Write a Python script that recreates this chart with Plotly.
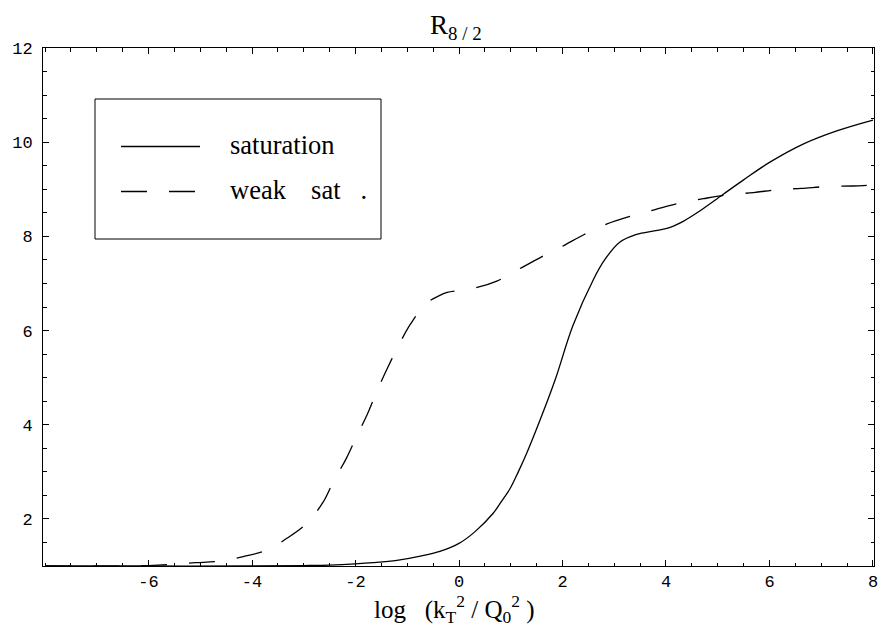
import plotly.graph_objects as go

# ---- data ----
sat_x = [-8.0, -6.0, -4.0, -3.0, -2.5, -2.0, -1.66, -1.2, -0.7, -0.37, 0.0, 0.31, 0.66, 0.82, 0.99,
         1.15, 1.31, 1.57, 1.86, 2.2, 2.6, 2.82, 3.1, 3.43, 3.8, 4.08, 4.35, 4.6, 5.1, 5.5, 6.0,
         6.65, 7.3, 8.0]
sat_y = [1.0, 1.0, 1.0, 1.01, 1.02, 1.045, 1.07, 1.12, 1.22, 1.31, 1.48, 1.73, 2.12, 2.37, 2.65,
         3.01, 3.40, 4.11, 4.96, 6.10, 7.09, 7.51, 7.87, 8.04, 8.12, 8.19, 8.33, 8.50, 8.89, 9.20, 9.57,
         9.96, 10.24, 10.47]

weak_x = [-8.0, -6.5, -6.0, -5.6, -5.1, -4.66, -4.17, -3.71, -3.31, -2.94, -2.63, -2.42, -2.18, -1.98,
          -1.77, -1.58, -1.38, -1.17, -0.93, -0.64, -0.4, -0.23, 0.26, 0.73, 1.15, 1.57, 2.0, 2.42,
          2.85, 3.32, 3.79, 4.24, 4.72, 5.17, 5.69, 6.14, 6.62, 7.14, 7.61, 8.0]
weak_y = [1.0, 1.0, 1.01, 1.03, 1.07, 1.10, 1.20, 1.34, 1.60, 1.91, 2.35, 2.81, 3.28, 3.75,
          4.23, 4.73, 5.21, 5.68, 6.15, 6.57, 6.73, 6.81, 6.89, 7.05, 7.30, 7.55, 7.79, 8.04,
          8.26, 8.43, 8.57, 8.70, 8.80, 8.88, 8.93, 8.99, 9.02, 9.06, 9.07, 9.09]

x_ticks = [-6, -4, -2, 0, 2, 4, 6, 8]
y_ticks = [2, 4, 6, 8, 10, 12]
series_names = ["saturation", "weak  sat  ."]

# ---- layout geometry (pixels) ----
W, H = 880, 630
L, R, T, B = 43, 6, 48, 64
PW, PH = W - L - R, H - T - B


def px(x):
    return (x - L) / PW


def py(y):
    return (H - B - y) / PH


SERIF = "Liberation Serif, Times New Roman, serif"
MONO = "Liberation Mono, Courier New, monospace"
DASH = "26px,22px"
NB = "\u00a0"

fig = go.Figure()
fig.add_trace(go.Scatter(x=sat_x, y=sat_y, mode="lines", name=series_names[0],
                         line=dict(color="black", width=1.3, shape="spline", smoothing=1.0)))
fig.add_trace(go.Scatter(x=weak_x, y=weak_y, mode="lines", name=series_names[1],
                         line=dict(color="black", width=1.3, dash=DASH, shape="spline", smoothing=1.0)))

axis_common = dict(
    showgrid=False, zeroline=False, showline=True, linecolor="black", linewidth=1,
    mirror="ticks", ticks="inside", ticklen=6, tickcolor="black", tickwidth=1,
    tickfont=dict(family=MONO, size=17, color="black"), automargin=False,
)

fig.update_xaxes(range=[-8.04, 8.02], tickvals=x_ticks, ticktext=[str(v) for v in x_ticks],
                 minor=dict(ticks="inside", ticklen=3.5, dtick=0.5, tick0=0, tickcolor="black"),
                 ticklabelstandoff=0, **axis_common)
fig.update_yaxes(range=[1, 12], tickvals=y_ticks,
                 minor=dict(ticks="inside", ticklen=3.5, dtick=0.5, tick0=0, tickcolor="black"),
                 ticklabelstandoff=6, **axis_common)

shapes = []
annotations = []
# legend box
shapes.append(dict(type="rect", xref="paper", yref="paper",
                   x0=px(95), x1=px(381), y0=py(239), y1=py(99),
                   line=dict(color="black", width=1), fillcolor="white", layer="above"))
# legend sample lines
shapes.append(dict(type="line", xref="paper", yref="paper",
                   x0=px(121), x1=px(200), y0=py(146.5), y1=py(146.5),
                   line=dict(color="black", width=1.3), layer="above"))
shapes.append(dict(type="line", xref="paper", yref="paper",
                   x0=px(121), x1=px(198), y0=py(191.5), y1=py(191.5),
                   line=dict(color="black", width=1.3, dash=DASH), layer="above"))
weak_parts = series_names[1].split("  ")
legend_text = [series_names[0],
               weak_parts[0] + NB * 3 + "\u2009" + weak_parts[1] + NB * 3 + weak_parts[2]]
for txt, ypix in zip(legend_text, [145, 190]):
    annotations.append(dict(text=txt, xref="paper", yref="paper",
                            x=px(228), y=py(ypix), xanchor="left", yanchor="middle",
                            showarrow=False, font=dict(family=SERIF, size=26.5, color="black")))
# title
annotations.append(dict(text="R<sub>8 / 2</sub>", xref="paper", yref="paper",
                        x=px(456), y=py(27), xanchor="center", yanchor="middle",
                        showarrow=False, font=dict(family=SERIF, size=27, color="black")))
# x-axis label
annotations.append(dict(text="log" + NB * 3 + "(k<sub>T</sub><sup>2</sup>" + NB + "/" + NB
                        + "Q<sub>0</sub><sup>2</sup>" + NB + ")",
                        xref="paper", yref="paper",
                        x=px(454), y=py(609), xanchor="center", yanchor="middle",
                        showarrow=False, font=dict(family=SERIF, size=25, color="black")))

fig.update_layout(
    width=W, height=H, margin=dict(l=L, r=R, t=T, b=B, pad=0, autoexpand=False),
    paper_bgcolor="white", plot_bgcolor="white", showlegend=False,
    shapes=shapes, annotations=annotations,
)

fig.write_html("out.html", config={"displayModeBar": False},
               post_script="document.body.style.margin='0';")
